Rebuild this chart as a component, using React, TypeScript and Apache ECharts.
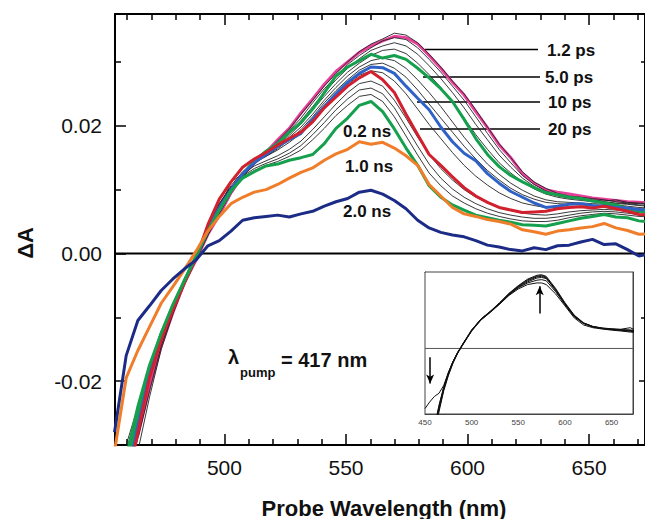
import React, { useEffect, useRef } from "react";
import * as echarts from "echarts";

// ---------- main panel data (probe wavelength in nm, ΔA) ----------
const WAVELENGTH = [
  454.8, 459.6, 464.4, 469.2, 474.0, 478.8, 483.6, 488.4, 493.2, 497.9,
  502.7, 507.5, 512.3, 517.1, 521.9, 526.7, 531.5, 536.3, 541.1, 545.9,
  550.7, 555.5, 560.3, 565.1, 569.9, 574.7, 579.5, 584.2, 589.0, 593.8,
  598.6, 603.4, 608.2, 613.0, 617.8, 622.6, 627.4, 632.2, 637.0, 641.8,
  646.6, 651.4, 656.2, 661.0, 665.8, 670.5, 675.3,
];

const PS_1_2 = [
  null, null, -0.0285, -0.021, -0.0145, -0.0093, -0.0045, -0.001, 0.003, 0.006,
  0.0095, 0.0122, 0.0142, 0.0158, 0.0178, 0.0196, 0.022, 0.0242, 0.0265, 0.0285,
  0.03, 0.0315, 0.0325, 0.0333, 0.034, 0.0338, 0.0328, 0.031, 0.029, 0.0268,
  0.0248, 0.0222, 0.0197, 0.017, 0.015, 0.0125, 0.011, 0.01, 0.0096, 0.0093,
  0.009, 0.0087, 0.0085, 0.0083, 0.0081, 0.008, 0.0079,
];
const PS_5_0 = [
  -0.042, -0.034, -0.0255, -0.018, -0.0125, -0.0082, -0.0042, -0.0004, 0.004, 0.0068,
  0.0098, 0.0124, 0.0145, 0.016, 0.0172, 0.019, 0.0205, 0.0226, 0.0252, 0.0278,
  0.0292, 0.0302, 0.0312, 0.0306, 0.031, 0.0304, 0.029, 0.0275, 0.0258, 0.0238,
  0.021, 0.018, 0.0155, 0.0136, 0.0122, 0.0112, 0.0103, 0.0095, 0.0092, 0.0088,
  0.0086, 0.0082, 0.0079, 0.0076, 0.007, 0.0066, 0.0063,
];
const PS_10 = [
  -0.043, -0.036, -0.027, -0.019, -0.013, -0.0085, -0.0044, -0.0006, 0.004, 0.0072,
  0.01, 0.0125, 0.0142, 0.0155, 0.0168, 0.0178, 0.0188, 0.021, 0.023, 0.025,
  0.0268, 0.0282, 0.0292, 0.0291, 0.0282, 0.0262, 0.0243, 0.0225, 0.0198, 0.0175,
  0.0157, 0.0145, 0.0125, 0.011, 0.0097, 0.0088, 0.0079, 0.0072, 0.0074, 0.0077,
  0.0078, 0.0075, 0.0074, 0.0072, 0.0071, 0.0069, 0.0068,
];
const PS_20 = [
  -0.044, -0.037, -0.028, -0.0195, -0.0135, -0.0088, -0.0046, -0.0007, 0.0045, 0.0085,
  0.0112, 0.0135, 0.0148, 0.0158, 0.017, 0.018, 0.019, 0.0206, 0.0228, 0.0245,
  0.0262, 0.0275, 0.0285, 0.0272, 0.0252, 0.0218, 0.0186, 0.0155, 0.0138, 0.012,
  0.0103, 0.009, 0.008, 0.0072, 0.0068, 0.0064, 0.0065, 0.0066, 0.007, 0.0072,
  0.0073, 0.0071, 0.0074, 0.007, 0.0066, 0.0061, 0.006,
];
const NS_0_2 = [
  -0.04, -0.032, -0.024, -0.0175, -0.0125, -0.008, -0.0042, -0.0004, 0.0035, 0.0068,
  0.0098, 0.0118, 0.0128, 0.0137, 0.014, 0.0146, 0.015, 0.0155, 0.0172, 0.0196,
  0.0212, 0.0232, 0.0238, 0.0222, 0.0195, 0.0165, 0.0138, 0.0106, 0.0088, 0.0076,
  0.0068, 0.006, 0.0056, 0.0052, 0.0049, 0.0045, 0.0044, 0.0043, 0.0047, 0.0051,
  0.0055, 0.0058, 0.0061, 0.0057, 0.0056, 0.0051, 0.0049,
];
const NS_1_0 = [
  -0.031, -0.0195, -0.0152, -0.0115, -0.0078, -0.0052, -0.0025, 0.0004, 0.0035, 0.0058,
  0.0078, 0.0088, 0.0096, 0.01, 0.0108, 0.0118, 0.0127, 0.0134, 0.0146, 0.0156,
  0.0163, 0.0175, 0.0171, 0.0174, 0.0165, 0.0153, 0.0138, 0.0108, 0.009, 0.0072,
  0.0062, 0.0058, 0.0053, 0.005, 0.0046, 0.0037, 0.0034, 0.003, 0.0035, 0.0037,
  0.004, 0.0042, 0.0047, 0.004, 0.0036, 0.003, 0.0031,
];
const NS_2_0 = [
  -0.028, -0.016, -0.0105, -0.0082, -0.0058, -0.004, -0.0024, -0.001, 0.0012, 0.002,
  0.0035, 0.0052, 0.0056, 0.0058, 0.006, 0.0057, 0.0062, 0.0066, 0.0074, 0.0081,
  0.0086, 0.0096, 0.0099, 0.0093, 0.0083, 0.007, 0.0052, 0.004, 0.0033, 0.0029,
  0.0026, 0.002, 0.0013, 0.001, 0.0006, 0.0004, 0.0009, 0.0006, 0.0012, 0.0013,
  0.0018, 0.0022, 0.0014, 0.0015, 0.0006, -0.0004, 0.0,
];

// intermediate delays (thin black traces)
const TRACE_A = [
  -0.046, -0.039, -0.031, -0.0225, -0.015, -0.0095, -0.0048, -0.001, 0.0028, 0.0062,
  0.0094, 0.012, 0.014, 0.0158, 0.0176, 0.0195, 0.0218, 0.024, 0.0262, 0.0282,
  0.03, 0.0316, 0.0328, 0.0336, 0.0345, 0.0342, 0.033, 0.0312, 0.0292, 0.027,
  0.025, 0.0225, 0.0198, 0.0172, 0.015, 0.0128, 0.0112, 0.0102, 0.0094, 0.009,
  0.0088, 0.0086, 0.0084, 0.0081, 0.0079, 0.0078, 0.0077,
];
const TRACE_B = [
  -0.042, -0.036, -0.029, -0.0215, -0.0145, -0.0092, -0.0047, -0.0008, 0.0033, 0.0068,
  0.0112, 0.0124, 0.0142, 0.0156, 0.0172, 0.0192, 0.0212, 0.0236, 0.0258, 0.0277,
  0.0296, 0.031, 0.0322, 0.0333, 0.0338, 0.0335, 0.0322, 0.0304, 0.0284, 0.0262,
  0.024, 0.0214, 0.0188, 0.0163, 0.0142, 0.0122, 0.0108, 0.0098, 0.0092, 0.0089,
  0.0086, 0.0084, 0.0082, 0.0084, 0.008, 0.0079, 0.0078,
];
const TRACE_C = [
  -0.04, -0.034, -0.0265, -0.0195, -0.0135, -0.0088, -0.0045, -0.0006, 0.0036, 0.007,
  0.0098, 0.0122, 0.014, 0.0155, 0.017, 0.0188, 0.0208, 0.023, 0.0252, 0.0272,
  0.029, 0.0305, 0.0318, 0.0325, 0.033, 0.0325, 0.0312, 0.0294, 0.0274, 0.0252,
  0.0228, 0.0202, 0.0178, 0.0154, 0.0135, 0.0118, 0.0105, 0.0096, 0.009, 0.0087,
  0.0085, 0.0083, 0.0081, 0.0079, 0.0078, 0.0076, 0.0075,
];
const TRACE_D = [
  -0.038, -0.033, -0.026, -0.019, -0.0132, -0.0086, -0.0044, -0.0005, 0.0038, 0.0072,
  0.01, 0.0123, 0.0141, 0.0154, 0.0168, 0.0185, 0.0203, 0.0225, 0.0246, 0.0266,
  0.0284, 0.0298, 0.031, 0.0318, 0.032, 0.0313, 0.0298, 0.028, 0.026, 0.0236,
  0.0212, 0.0186, 0.0163, 0.0142, 0.0126, 0.0112, 0.0101, 0.0093, 0.0088, 0.0085,
  0.0083, 0.0081, 0.008, 0.0078, 0.0077, 0.0075, 0.0074,
];
const TRACE_E = [
  -0.039, -0.0335, -0.0262, -0.0188, -0.013, -0.0085, -0.0043, -0.0004, 0.0039, 0.0073,
  0.0101, 0.0124, 0.0141, 0.0153, 0.0166, 0.0182, 0.0198, 0.0218, 0.024, 0.026,
  0.0278, 0.0292, 0.0302, 0.0306, 0.0302, 0.029, 0.0272, 0.0252, 0.023, 0.0206,
  0.0182, 0.016, 0.014, 0.0124, 0.011, 0.0099, 0.009, 0.0084, 0.0081, 0.008,
  0.0079, 0.0078, 0.0077, 0.0076, 0.0074, 0.0072, 0.0071,
];
const TRACE_F = [
  -0.037, -0.032, -0.025, -0.0182, -0.0127, -0.0083, -0.0042, -0.0004, 0.004, 0.0075,
  0.0103, 0.0126, 0.0142, 0.0152, 0.0164, 0.0178, 0.0194, 0.0214, 0.0236, 0.0255,
  0.0272, 0.0287, 0.0296, 0.0298, 0.029, 0.0276, 0.0256, 0.0234, 0.0212, 0.019,
  0.0168, 0.0148, 0.013, 0.0115, 0.0102, 0.0092, 0.0085, 0.008, 0.0078, 0.0077,
  0.0076, 0.0075, 0.0075, 0.0074, 0.0072, 0.007, 0.0069,
];
const TRACE_G = [
  -0.036, -0.031, -0.0245, -0.0178, -0.0125, -0.0082, -0.0042, -0.0004, 0.0042, 0.0078,
  0.0106, 0.0128, 0.0143, 0.0152, 0.0162, 0.0174, 0.0188, 0.0207, 0.0228, 0.0248,
  0.0265, 0.0279, 0.0286, 0.0283, 0.027, 0.025, 0.0226, 0.0202, 0.018, 0.0158,
  0.0138, 0.0121, 0.0107, 0.0095, 0.0086, 0.0079, 0.0075, 0.0072, 0.0072, 0.0073,
  0.0073, 0.0072, 0.0072, 0.0071, 0.0069, 0.0067, 0.0066,
];
const TRACE_H = [
  -0.035, -0.03, -0.024, -0.0175, -0.0123, -0.0081, -0.0042, -0.0004, 0.0042, 0.0078,
  0.0104, 0.0124, 0.0137, 0.0145, 0.0153, 0.0163, 0.0176, 0.0194, 0.0214, 0.0234,
  0.0252, 0.0266, 0.027, 0.0262, 0.024, 0.0212, 0.0182, 0.0155, 0.0133, 0.0115,
  0.01, 0.0088, 0.0079, 0.0072, 0.0067, 0.0063, 0.0061, 0.006, 0.0062, 0.0065,
  0.0067, 0.0068, 0.0069, 0.0068, 0.0066, 0.0064, 0.0063,
];
const TRACE_I = [
  -0.036, -0.031, -0.0245, -0.0178, -0.0125, -0.0082, -0.0042, -0.0004, 0.0041, 0.0076,
  0.0102, 0.0121, 0.0133, 0.0141, 0.0148, 0.0157, 0.0169, 0.0186, 0.0205, 0.0225,
  0.0242, 0.0256, 0.0259, 0.025, 0.0228, 0.0198, 0.0168, 0.014, 0.0118, 0.0101,
  0.0088, 0.0078, 0.007, 0.0064, 0.006, 0.0057, 0.0055, 0.0055, 0.0057, 0.006,
  0.0063, 0.0065, 0.0066, 0.0065, 0.0063, 0.0061, 0.006,
];
const TRACE_J = [
  -0.037, -0.032, -0.025, -0.018, -0.0126, -0.0082, -0.0043, -0.0005, 0.004, 0.0073,
  0.01, 0.0119, 0.013, 0.0138, 0.0144, 0.0152, 0.0162, 0.0178, 0.0196, 0.0216,
  0.0232, 0.0246, 0.0249, 0.0238, 0.0214, 0.0184, 0.0154, 0.0126, 0.0106, 0.009,
  0.0079, 0.007, 0.0063, 0.0058, 0.0054, 0.0051, 0.005, 0.005, 0.0052, 0.0056,
  0.0059, 0.0061, 0.0063, 0.0062, 0.006, 0.0058, 0.0057,
];

// ---------- inset data (normalised) ----------
const INSET_WAVELENGTH = [
  450, 455, 460, 465, 470, 475, 480, 485, 490, 500, 510, 520, 530, 540, 550,
  560, 570, 575, 580, 590, 600, 610, 620, 630, 640, 650, 660, 670, 675,
];
const INSET_1 = [-1.3, -1.05, -0.78, -0.56, -0.38, -0.24, -0.13, -0.04, 0.03, 0.165, 0.265, 0.335, 0.41, 0.495, 0.565, 0.62, 0.655, 0.66, 0.645, 0.53, 0.4, 0.29, 0.228, 0.198, 0.182, 0.172, 0.165, 0.157, 0.154];
const INSET_2 = [-1.25, -1.0, -0.74, -0.53, -0.36, -0.23, -0.12, -0.035, 0.035, 0.17, 0.27, 0.34, 0.42, 0.505, 0.575, 0.635, 0.67, 0.675, 0.66, 0.55, 0.42, 0.305, 0.235, 0.2, 0.185, 0.178, 0.172, 0.17, 0.165];
const INSET_3 = [-1.35, -1.1, -0.8, -0.58, -0.39, -0.25, -0.135, -0.045, 0.025, 0.16, 0.26, 0.33, 0.405, 0.485, 0.545, 0.585, 0.6, 0.6, 0.585, 0.5, 0.39, 0.28, 0.215, 0.19, 0.178, 0.168, 0.16, 0.15, 0.147];
const INSET_4 = [-1.2, -0.95, -0.72, -0.52, -0.355, -0.225, -0.12, -0.038, 0.03, 0.165, 0.268, 0.338, 0.412, 0.492, 0.555, 0.6, 0.625, 0.63, 0.62, 0.52, 0.405, 0.295, 0.23, 0.198, 0.184, 0.175, 0.168, 0.162, 0.158];
const INSET_5 = [-0.55, -0.49, -0.44, -0.41, -0.34, -0.22, -0.12, -0.04, 0.03, 0.16, 0.262, 0.333, 0.408, 0.49, 0.56, 0.61, 0.645, 0.65, 0.64, 0.54, 0.41, 0.3, 0.232, 0.2, 0.183, 0.176, 0.17, 0.165, 0.16];
const INSET_6 = [-1.28, -1.02, -0.76, -0.55, -0.37, -0.235, -0.125, -0.038, 0.032, 0.168, 0.268, 0.338, 0.415, 0.5, 0.57, 0.628, 0.662, 0.668, 0.652, 0.54, 0.41, 0.298, 0.232, 0.202, 0.188, 0.18, 0.176, 0.19, 0.17];

// ---------- ticks ----------
const X_MAJOR = [500, 550, 600, 650];
const X_MINOR = [460, 470, 480, 490, 510, 520, 530, 540, 560, 570, 580, 590, 610, 620, 630, 640, 660, 670];
const Y_MAJOR = [-0.02, 0, 0.02];
const Y_MINOR = [-0.03, -0.01, 0.01, 0.03];
const INSET_X_LABELS = [450, 500, 550, 600, 650];
const INSET_X_TICKS = [475, 500, 525, 550, 575, 600, 625, 650];

const FONT = '"Liberation Sans", Arial, Helvetica, sans-serif';

function pairs(xs: number[], ys: (number | null)[]) {
  const out: number[][] = [];
  ys.forEach((y, i) => {
    if (y !== null && y !== undefined) out.push([xs[i], y]);
  });
  return out;
}

export default function App() {
  const ref = useRef<HTMLDivElement>(null);

  useEffect(() => {
    if (!ref.current) return;
    const chart = echarts.init(ref.current, undefined, { renderer: "svg" });

    const mainLine = (data: (number | null)[], color: string, width: number, z: number) => ({
      type: "line",
      xAxisIndex: 0,
      yAxisIndex: 0,
      data: pairs(WAVELENGTH, data),
      showSymbol: false,
      symbol: "none",
      silent: true,
      clip: true,
      z,
      lineStyle: { color, width },
    });
    const insetLine = (data: number[]) => ({
      type: "line",
      xAxisIndex: 4,
      yAxisIndex: 4,
      data: pairs(INSET_WAVELENGTH, data),
      showSymbol: false,
      symbol: "none",
      silent: true,
      clip: true,
      z: 6,
      lineStyle: { color: "#111", width: 1 },
    });

    const mainX = (position: string, ticks: number[], len: number, labels: boolean, line: boolean) => ({
      type: "value",
      gridIndex: 0,
      position,
      min: 455,
      max: 673,
      axisLine: { show: line, onZero: false, lineStyle: { color: "#000", width: 2 } },
      axisTick: { show: true, inside: true, length: len, customValues: ticks, lineStyle: { color: "#000", width: 1.5 } },
      axisLabel: labels
        ? { show: true, customValues: ticks, fontSize: 21, color: "#111", fontFamily: FONT, margin: 12 }
        : { show: false },
      splitLine: { show: false },
    });
    const mainY = (position: string, ticks: number[], len: number, labels: boolean, line: boolean) => ({
      type: "value",
      gridIndex: 0,
      position,
      min: -0.03,
      max: 0.0375,
      axisLine: { show: line, onZero: false, lineStyle: { color: "#000", width: 2 } },
      axisTick: { show: true, inside: true, length: len, customValues: ticks, lineStyle: { color: "#000", width: 1.5 } },
      axisLabel: labels
        ? {
            show: true,
            customValues: ticks,
            formatter: (v: number) => v.toFixed(2),
            fontSize: 21,
            color: "#111",
            fontFamily: FONT,
            margin: 13,
          }
        : { show: false },
      splitLine: { show: false },
    });

    const option = {
      animation: false,
      backgroundColor: "#fff",
      grid: [
        { left: 115, top: 14, width: 531, height: 431, show: false },
        { left: 425, top: 272, width: 208, height: 142, show: true, borderColor: "#444", borderWidth: 1, backgroundColor: "#fff", z: 4 },
      ],
      xAxis: [
        mainX("bottom", X_MAJOR, 11, true, true),
        mainX("bottom", X_MINOR, 6, false, false),
        mainX("top", X_MAJOR, 11, false, true),
        mainX("top", X_MINOR, 6, false, false),
        {
          type: "value",
          gridIndex: 1,
          position: "bottom",
          min: 450,
          max: 673,
          axisLine: { show: true, onZero: false, lineStyle: { color: "#444", width: 1 } },
          axisTick: { show: true, inside: true, length: 3, customValues: INSET_X_TICKS, lineStyle: { color: "#444", width: 1 } },
          axisLabel: { show: true, customValues: INSET_X_LABELS, fontSize: 8, color: "#444", fontFamily: FONT, margin: 4 },
          splitLine: { show: false },
        },
        {
          type: "value",
          gridIndex: 1,
          position: "top",
          min: 450,
          max: 673,
          axisLine: { show: true, onZero: false, lineStyle: { color: "#444", width: 1 } },
          axisTick: { show: true, inside: true, length: 3, customValues: INSET_X_TICKS, lineStyle: { color: "#444", width: 1 } },
          axisLabel: { show: false },
          splitLine: { show: false },
        },
      ],
      yAxis: [
        mainY("left", Y_MAJOR, 11, true, true),
        mainY("left", Y_MINOR, 6, false, false),
        mainY("right", Y_MAJOR, 6, false, true),
        mainY("right", Y_MINOR, 4, false, false),
        {
          type: "value",
          gridIndex: 1,
          position: "left",
          min: -0.6,
          max: 0.7,
          interval: 0.1,
          axisLine: { show: true, onZero: false, lineStyle: { color: "#444", width: 1 } },
          axisTick: { show: true, inside: true, length: 3, lineStyle: { color: "#444", width: 1 } },
          axisLabel: { show: false },
          splitLine: { show: false },
        },
        {
          type: "value",
          gridIndex: 1,
          position: "right",
          min: -0.6,
          max: 0.7,
          interval: 0.1,
          axisLine: { show: true, onZero: false, lineStyle: { color: "#444", width: 1 } },
          axisTick: { show: false },
          axisLabel: { show: false },
          splitLine: { show: false },
        },
      ],
      series: [
        {
          type: "line",
          xAxisIndex: 0,
          yAxisIndex: 0,
          data: [[455, 0], [673, 0]],
          showSymbol: false,
          symbol: "none",
          silent: true,
          z: 1,
          lineStyle: { color: "#000", width: 2 },
        },
        mainLine(PS_1_2, "#e8409a", 3, 2),
        mainLine(TRACE_A, "#222", 0.9, 3),
        mainLine(TRACE_B, "#222", 0.9, 3),
        mainLine(TRACE_C, "#222", 0.9, 3),
        mainLine(TRACE_D, "#222", 0.9, 3),
        mainLine(TRACE_E, "#222", 0.9, 3),
        mainLine(TRACE_F, "#222", 0.9, 3),
        mainLine(TRACE_G, "#222", 0.9, 3),
        mainLine(TRACE_H, "#222", 0.9, 3),
        mainLine(TRACE_I, "#222", 0.9, 3),
        mainLine(TRACE_J, "#222", 0.9, 3),
        mainLine(PS_5_0, "#14a04c", 3, 4),
        mainLine(PS_10, "#2f62c6", 3, 4),
        mainLine(PS_20, "#d3202f", 3, 4),
        mainLine(NS_0_2, "#14a04c", 3, 4),
        mainLine(NS_1_0, "#ef7d2a", 3, 4),
        mainLine(NS_2_0, "#1c2c86", 3, 4),
        {
          type: "line",
          xAxisIndex: 4,
          yAxisIndex: 4,
          data: [[450, 0], [673, 0]],
          showSymbol: false,
          symbol: "none",
          silent: true,
          z: 5,
          lineStyle: { color: "#555", width: 1 },
          markLine: {
            silent: true,
            symbol: ["none", "arrow"],
            symbolSize: [6, 9],
            label: { show: false },
            lineStyle: { color: "#000", width: 1.5, type: "solid" },
            data: [
              [{ coord: [573, 0.32] }, { coord: [573, 0.57] }],
              [{ coord: [455.5, -0.08] }, { coord: [455.5, -0.32] }],
            ],
          },
        },
        insetLine(INSET_1),
        insetLine(INSET_2),
        insetLine(INSET_3),
        insetLine(INSET_4),
        insetLine(INSET_5),
        insetLine(INSET_6),
      ],
      graphic: [
        {
          type: "text",
          x: 25,
          y: 243,
          rotation: Math.PI / 2,
          style: { text: "ΔA", fontSize: 22, fontWeight: "bold", fontFamily: FONT, fill: "#111", align: "center", verticalAlign: "middle", textAlign: "center", textVerticalAlign: "middle" },
        },
        {
          type: "text",
          x: 384,
          y: 508,
          style: { text: "Probe Wavelength (nm)", fontSize: 22, fontWeight: "bold", fontFamily: FONT, fill: "#111", align: "center", verticalAlign: "middle", textAlign: "center", textVerticalAlign: "middle" },
        },
        { type: "line", shape: { x1: 425, y1: 49.5, x2: 538, y2: 49.5 }, style: { stroke: "#000", lineWidth: 1.5 } },
        { type: "line", shape: { x1: 423, y1: 77, x2: 540, y2: 77 }, style: { stroke: "#000", lineWidth: 1.5 } },
        { type: "line", shape: { x1: 417, y1: 102, x2: 540, y2: 102 }, style: { stroke: "#000", lineWidth: 1.5 } },
        { type: "line", shape: { x1: 420, y1: 129, x2: 540, y2: 129 }, style: { stroke: "#000", lineWidth: 1.5 } },
        ...[
          ["1.2 ps", 547, 50],
          ["5.0 ps", 545, 77],
          ["10 ps", 548, 102],
          ["20 ps", 548, 129],
          ["0.2 ns", 343, 131],
          ["1.0 ns", 345, 166],
          ["2.0 ns", 343, 211],
        ].map(([t, x, y]) => ({
          type: "text",
          x,
          y,
          z: 10,
          style: { text: t, fontSize: 17, fontWeight: "bold", fontFamily: FONT, fill: "#111", align: "left", verticalAlign: "middle", textAlign: "left", textVerticalAlign: "middle" },
        })),
        {
          type: "text",
          x: 228,
          y: 357,
          style: { text: "λ", fontSize: 20, fontWeight: "bold", fontFamily: FONT, fill: "#111", align: "left", verticalAlign: "middle", textAlign: "left", textVerticalAlign: "middle" },
        },
        {
          type: "text",
          x: 240,
          y: 372,
          style: { text: "pump", fontSize: 13, fontWeight: "bold", fontFamily: FONT, fill: "#111", align: "left", verticalAlign: "middle", textAlign: "left", textVerticalAlign: "middle" },
        },
        {
          type: "text",
          x: 281,
          y: 360,
          style: { text: "= 417 nm", fontSize: 20, fontWeight: "bold", fontFamily: FONT, fill: "#111", align: "left", verticalAlign: "middle", textAlign: "left", textVerticalAlign: "middle" },
        },
      ],
    };

    chart.setOption(option as any);
    return () => chart.dispose();
  }, []);

  return (
    <div
      ref={ref}
      style={{ position: "absolute", left: 0, top: 0, width: 645, height: 519, background: "#fff" }}
    />
  );
}
